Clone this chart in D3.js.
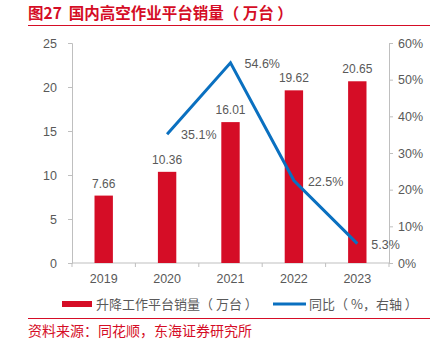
<!DOCTYPE html>
<meta charset="utf-8">
<style>
    body { margin: 0; background: #fff; font-family: "Noto Sans CJK SC", "Liberation Sans", sans-serif; }
    text { fill: #595959; }
    .axis path, .axis line { stroke: #BFBFBF; }
</style>
<body>
<script src="https://d3js.org/d3.v7.min.js"></script>
<script>
    var years = ["2019", "2020", "2021", "2022", "2023"];
    var sales = [7.66, 10.36, 16.01, 19.62, 20.65];
    var yoyYears = ["2020", "2021", "2022", "2023"];
    var yoy = [35.1, 54.6, 22.5, 5.3];
    var leftTicks = [0, 5, 10, 15, 20, 25];
    var rightTicks = [0, 10, 20, 30, 40, 50, 60];

    var red = "#D50D26", blue = "#0A70C0";
    var margin = {top: 43, left: 72, right: 50, bottom: 85},
        W = 439, H = 348,
        width = W - margin.left - margin.right,
        height = H - margin.top - margin.bottom;

    var svg = d3.select("body").append("svg")
        .attr("width", W).attr("height", H);

    // title
    svg.append("text").attr("x", 28).attr("y", 19)
        .style("fill", red).style("font-size", "15.5px").style("font-weight", "bold")
        .style("white-space", "pre")
        .text("图27  国内高空作业平台销量（ 万台 ）");
    svg.append("line").attr("x1", 28).attr("x2", 430).attr("y1", 25.5).attr("y2", 25.5)
        .style("stroke", red).style("stroke-width", 1);

    var g = svg.append("g").attr("transform", "translate(" + margin.left + "," + margin.top + ")");

    var x = d3.scaleBand().domain(years).range([0, width]).paddingInner(0.71).paddingOuter(0.355);
    var y = d3.scaleLinear().domain([0, 25]).range([height, 0]);
    var y2 = d3.scaleLinear().domain([0, 60]).range([height, 0]);

    // x axis with ticks at band boundaries
    var xa = g.append("g").attr("class", "axis").attr("transform", "translate(0," + height + ")");
    xa.append("line").attr("x1", 0).attr("x2", width);
    var step = x.step();
    d3.range(years.length + 1).forEach(function(i) {
        xa.append("line").attr("x1", i * step).attr("x2", i * step).attr("y1", 0).attr("y2", 4);
    });
    xa.selectAll("text.yr").data(years).enter().append("text")
        .attr("x", function(d) { return x(d) + x.bandwidth() / 2; })
        .attr("y", 20).attr("text-anchor", "middle")
        .style("font-size", "12.5px").style("font-family", "Liberation Sans")
        .text(function(d) { return d; });

    var yAxis = d3.axisLeft(y).tickValues(leftTicks).tickSize(4).tickPadding(11);
    g.append("g").attr("class", "axis").call(yAxis)
        .call(function(s) { s.selectAll("text").style("font-size", "12.5px").style("font-family", "Liberation Sans").style("fill", "#595959"); });

    var yAxis2 = d3.axisRight(y2).tickValues(rightTicks).tickSize(4).tickPadding(5)
        .tickFormat(function(d) { return d + "%"; });
    g.append("g").attr("class", "axis").attr("transform", "translate(" + width + ",0)").call(yAxis2)
        .call(function(s) { s.selectAll("text").style("font-size", "12.5px").style("font-family", "Liberation Sans").style("fill", "#595959"); });
    g.selectAll(".axis .domain").style("stroke", "#BFBFBF");

    // bars
    g.selectAll("rect.bar").data(sales).enter().append("rect")
        .attr("x", function(d, i) { return x(years[i]); })
        .attr("y", function(d) { return y(d); })
        .attr("width", x.bandwidth())
        .attr("height", function(d) { return height - y(d); })
        .style("fill", red);
    g.selectAll("text.bl").data(sales).enter().append("text")
        .attr("x", function(d, i) { return x(years[i]) + x.bandwidth() / 2; })
        .attr("y", function(d) { return y(d) - 8; })
        .attr("text-anchor", "middle")
        .style("font-size", "12px").style("font-family", "Liberation Sans")
        .text(function(d) { return d.toFixed(2); });

    // line
    var cx = function(d, i) { return x(yoyYears[i]) + x.bandwidth() / 2; };
    var line = d3.line().x(cx).y(function(d) { return y2(d); });
    g.append("path").datum(yoy).attr("d", line)
        .style("fill", "none").style("stroke", blue).style("stroke-width", 3);
    g.selectAll("text.ll").data(yoy).enter().append("text")
        .attr("x", function(d, i) { return cx(d, i) + 14; })
        .attr("y", function(d) { return y2(d) + 5; })
        .style("font-size", "12.5px").style("font-family", "Liberation Sans")
        .text(function(d) { return d.toFixed(1) + "%"; });

    // legend
    var lg = svg.append("g").attr("transform", "translate(0,304)");
    lg.append("rect").attr("x", 62).attr("y", -3).attr("width", 30).attr("height", 6).style("fill", red);
    lg.append("text").attr("x", 96).attr("y", 5).style("font-size", "13px")
        .style("white-space", "pre").text("升降工作平台销量（ 万台 ）");
    lg.append("line").attr("x1", 273).attr("x2", 306).attr("y1", 0).attr("y2", 0)
        .style("stroke", blue).style("stroke-width", 3);
    lg.append("text").attr("x", 309).attr("y", 5).style("font-size", "13px")
        .style("white-space", "pre").text("同比（ %，右轴 ）");

    // source
    svg.append("line").attr("x1", 28).attr("x2", 430).attr("y1", 318.5).attr("y2", 318.5)
        .style("stroke", red).style("stroke-width", 1);
    svg.append("text").attr("x", 28).attr("y", 336)
        .style("fill", red).style("font-size", "14px")
        .text("资料来源：同花顺，东海证券研究所");
</script>
</body>
